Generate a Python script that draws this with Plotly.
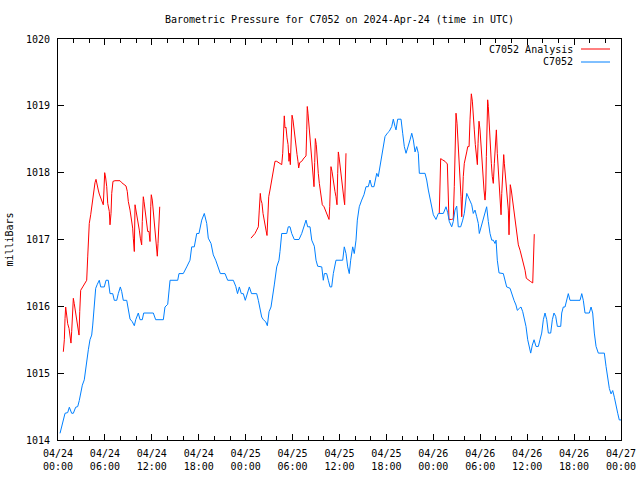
import plotly.graph_objects as go
import pandas as pd

BASE_TIME = "2024-04-24 00:00"

# C7052 station pressure (hours since 04/24 00:00 UTC, millibars)
station_hours = [
    0.26, 0.47, 0.90, 1.24, 1.45, 1.75, 1.96, 2.26, 2.52, 2.72, 2.94, 3.11, 3.36, 3.54, 3.75, 3.88,
    4.09, 4.31, 4.44, 4.64, 4.82, 5.03, 5.28, 5.46, 5.92, 6.14, 6.43, 6.65, 7.00, 7.20, 7.51, 7.71,
    7.97, 8.15, 8.35, 8.79, 8.99, 9.21, 9.50, 9.76, 9.94, 10.27, 10.49, 10.78, 10.96, 12.19, 12.49,
    13.47, 13.68, 14.03, 14.33, 15.31, 15.47, 16.02, 16.46, 16.88, 17.10, 17.43, 17.74, 18.03,
    18.38, 18.71, 19.02, 19.22, 19.57, 19.86, 20.17, 20.50, 20.76, 21.36, 21.70, 22.42, 22.73,
    22.96, 23.19, 23.44, 23.70, 23.95, 24.17, 24.47, 24.75, 25.41, 25.62, 25.83, 26.05, 26.26,
    26.56, 26.77, 26.99, 27.24, 27.46, 27.66, 27.97, 28.26, 28.39, 28.61, 29.25, 29.45, 29.67,
    29.89, 30.22, 30.82, 31.17, 31.46, 31.72, 31.93, 32.23, 32.45, 32.78, 33.00, 33.21, 33.73,
    33.93, 34.06, 34.36, 34.57, 34.79, 35.00, 35.21, 35.55, 36.41, 36.61, 36.83, 37.05, 37.25,
    37.43, 37.69, 37.89, 38.11, 38.28, 38.53, 38.84, 39.13, 39.39, 39.68, 39.90, 40.12, 40.41,
    40.76, 40.96, 41.18, 41.40, 41.60, 41.82, 42.11, 42.37, 42.68, 42.88, 43.10, 43.23, 43.44,
    43.87, 44.08, 44.29, 44.51, 44.80, 45.02, 45.24, 45.44, 45.66, 45.87, 46.08, 46.21, 46.94,
    47.15, 47.36, 47.58, 47.79, 48.00, 48.34, 48.64, 49.28, 49.62, 49.84, 50.04, 50.35, 50.55,
    50.77, 50.99, 51.19, 51.50, 51.76, 51.96, 52.27, 52.47, 52.69, 52.91, 53.11, 53.33, 53.55,
    53.75, 53.88, 54.10, 54.31, 54.61, 54.82, 55.03, 55.25, 55.47, 55.67, 55.89, 56.02, 56.18,
    56.40, 56.95, 57.16, 57.38, 57.81, 58.02, 58.32, 58.57, 58.74, 59.00, 59.21, 59.43, 59.63,
    59.85, 60.07, 60.27, 60.45, 60.66, 60.88, 61.13, 61.43, 61.64, 61.86, 62.07, 62.28, 62.50,
    62.71, 63.01, 63.22, 63.43, 63.65, 63.86, 64.29, 64.42, 64.62, 64.84, 65.06, 65.26, 65.48,
    66.76, 66.98, 67.18, 67.40, 67.95, 68.17, 68.38, 68.59, 68.81, 69.10, 69.87, 70.09, 70.31,
    70.51, 70.73, 70.94, 71.15, 71.36, 71.58, 71.78, 72.00,
]
station_mbar = [
    1014.10, 1014.19, 1014.40, 1014.41, 1014.49, 1014.40, 1014.40, 1014.49, 1014.50, 1014.59, 1014.72,
    1014.82, 1014.90, 1015.09, 1015.22, 1015.35, 1015.50, 1015.57, 1015.72, 1016.00, 1016.27, 1016.33,
    1016.39, 1016.29, 1016.29, 1016.39, 1016.39, 1016.19, 1016.19, 1016.09, 1016.09, 1016.19, 1016.29,
    1016.22, 1016.09, 1016.09, 1015.92, 1015.81, 1015.77, 1015.71, 1015.80, 1015.90, 1015.80, 1015.80,
    1015.90, 1015.90, 1015.80, 1015.80, 1015.99, 1016.03, 1016.39, 1016.39, 1016.49, 1016.49, 1016.59,
    1016.69, 1016.89, 1016.89, 1017.09, 1017.09, 1017.29, 1017.39, 1017.24, 1017.02, 1016.94, 1016.77,
    1016.69, 1016.59, 1016.49, 1016.49, 1016.39, 1016.39, 1016.30, 1016.19, 1016.29, 1016.19, 1016.19,
    1016.09, 1016.19, 1016.29, 1016.19, 1016.19, 1016.09, 1015.99, 1015.84, 1015.80, 1015.77, 1015.71,
    1015.92, 1015.99, 1016.14, 1016.32, 1016.59, 1016.69, 1016.82, 1017.09, 1017.09, 1017.19, 1017.19,
    1017.09, 1017.00, 1017.00, 1017.09, 1017.20, 1017.29, 1017.19, 1017.19, 1016.99, 1016.90, 1016.69,
    1016.60, 1016.59, 1016.39, 1016.49, 1016.49, 1016.39, 1016.29, 1016.29, 1016.49, 1016.69, 1016.69,
    1016.89, 1016.79, 1016.59, 1016.49, 1016.69, 1016.89, 1016.79, 1016.99, 1017.29, 1017.49, 1017.59,
    1017.67, 1017.79, 1017.79, 1017.89, 1017.79, 1017.79, 1017.99, 1017.94, 1018.09, 1018.24, 1018.36,
    1018.54, 1018.59, 1018.62, 1018.69, 1018.80, 1018.69, 1018.64, 1018.80, 1018.80, 1018.59, 1018.39,
    1018.29, 1018.39, 1018.49, 1018.59, 1018.49, 1018.31, 1018.39, 1018.29, 1017.99, 1017.99, 1017.89,
    1017.74, 1017.59, 1017.47, 1017.37, 1017.30, 1017.39, 1017.39, 1017.49, 1017.40, 1017.27, 1017.19,
    1017.27, 1017.44, 1017.50, 1017.19, 1017.19, 1017.29, 1017.39, 1017.69, 1017.64, 1017.59, 1017.52,
    1017.39, 1017.44, 1017.34, 1017.24, 1017.09, 1017.19, 1017.29, 1017.39, 1017.49, 1017.27, 1017.09,
    1016.99, 1016.99, 1016.94, 1016.99, 1016.69, 1016.50, 1016.49, 1016.39, 1016.29, 1016.27, 1016.19,
    1016.09, 1016.02, 1015.94, 1015.97, 1015.99, 1015.92, 1015.82, 1015.70, 1015.50, 1015.40, 1015.30,
    1015.42, 1015.50, 1015.40, 1015.40, 1015.50, 1015.60, 1015.80, 1015.90, 1015.80, 1015.60, 1015.60,
    1015.80, 1015.90, 1015.85, 1015.70, 1015.70, 1015.90, 1015.99, 1015.99, 1016.09, 1016.19, 1016.09,
    1016.09, 1016.19, 1016.09, 1015.90, 1015.90, 1015.99, 1015.90, 1015.60, 1015.40, 1015.30, 1015.30,
    1015.10, 1014.90, 1014.77, 1014.69, 1014.74, 1014.64, 1014.50, 1014.40, 1014.30, 1014.30,
]

# C7052 Analysis (None marks the gaps between the analysis runs)
analysis_hours = [
    0.68, 0.81, 0.90, 0.98, 1.11, 1.24, 1.41, 1.53, 1.66, 1.75, 1.88, 1.96, 2.08, 2.26, 2.39, 2.52,
    2.69, 2.78, 2.90, 3.16, 3.45, 3.67, 3.80, 3.88, 4.00, 4.18, 4.31, 4.44, 4.60, 4.73, 4.86, 5.03,
    5.15, 5.28, 5.46, 5.63, 5.79, 5.88, 5.97, 6.10, 6.23, 6.36, 6.56, 6.65, 6.78, 6.87, 7.03, 7.29,
    7.93, 8.15, 8.44, 8.70, 8.86, 8.99, 9.21, 9.43, 9.55, 9.63, 9.76, 9.85, 9.98, 10.10, 10.27,
    10.40, 10.53, 10.70, 10.78, 10.91, 11.00, 11.13, 11.25, 11.38, 11.47, 11.64, 11.77, 11.86,
    11.93, 12.06, 12.19, 12.32, 12.41, 12.53, 12.62, 12.70, 12.79, 12.88, 13.01,
    18.0,
    24.68, 24.90, 25.19, 25.41, 25.62, 25.74, 25.87, 25.96, 26.09, 26.22, 26.35, 26.47, 26.60,
    26.73, 26.82, 26.95, 27.11, 27.24, 27.37, 27.53, 27.75, 27.97, 28.30, 28.61, 28.74, 28.86,
    28.94, 29.03, 29.16, 29.29, 29.42, 29.54, 29.63, 29.71, 29.84, 29.93, 30.05, 30.18, 30.31,
    30.44, 30.57, 30.69, 30.78, 30.91, 31.17, 31.46, 31.72, 31.81, 31.88, 31.97, 32.10, 32.23,
    32.36, 32.48, 32.61, 32.74, 32.83, 32.91, 33.03, 33.16, 33.29, 33.42, 33.55, 33.67, 33.80,
    34.02, 34.19, 34.36, 34.53, 34.66, 34.75, 34.82, 34.91, 35.04, 35.17, 35.30, 35.42, 35.55,
    35.68, 35.77, 35.85, 35.94, 36.07, 36.19, 36.32, 36.45, 36.58, 36.66, 36.74, 36.83,
    42.0,
    48.76, 48.85, 48.94, 49.20, 49.49, 49.79, 49.92, 50.00, 50.35, 50.55, 50.68, 50.81, 50.90,
    51.03, 51.16, 51.28, 51.41, 51.54, 51.63, 51.71, 51.83, 51.96, 52.09, 52.27, 52.40, 52.57,
    52.69, 52.86, 52.99, 53.11, 53.24, 53.37, 53.50, 53.63, 53.72, 53.84, 53.97, 54.10, 54.23,
    54.35, 54.48, 54.61, 54.70, 54.78, 54.87, 54.95, 55.03, 55.16, 55.29, 55.42, 55.54, 55.67,
    55.80, 55.93, 56.06, 56.18, 56.27, 56.40, 56.53, 56.66, 56.75, 56.87, 57.00, 57.08, 57.21,
    57.34, 57.46, 57.59, 57.68, 57.77, 57.84, 57.97, 58.10, 58.23, 58.36, 58.49, 58.62, 58.74,
    58.87, 59.09, 59.26, 59.39, 59.56, 59.73, 59.89, 60.15, 60.45, 60.71, 60.78, 60.91,
]
analysis_mbar = [
    1015.32, 1015.50, 1015.82, 1015.99, 1015.87, 1015.74, 1015.67, 1015.57, 1015.45, 1015.62, 1015.94,
    1016.12, 1016.04, 1015.89, 1015.80, 1015.72, 1015.57, 1015.92, 1016.24, 1016.29, 1016.34, 1016.39,
    1016.74, 1017.12, 1017.24, 1017.37, 1017.49, 1017.62, 1017.74, 1017.85, 1017.90, 1017.83, 1017.74,
    1017.68, 1017.62, 1017.57, 1017.52, 1017.74, 1018.00, 1017.92, 1017.79, 1017.54, 1017.42, 1017.22,
    1017.39, 1017.69, 1017.87, 1017.88, 1017.88, 1017.85, 1017.83, 1017.80, 1017.72, 1017.57, 1017.44,
    1017.29, 1017.17, 1017.02, 1016.82, 1017.52, 1017.44, 1017.32, 1017.24, 1017.14, 1017.02, 1016.92,
    1017.27, 1017.64, 1017.57, 1017.44, 1017.32, 1017.22, 1017.12, 1017.12, 1016.97, 1017.49, 1017.67,
    1017.59, 1017.44, 1017.29, 1017.14, 1016.99, 1016.84, 1016.75, 1016.94, 1017.32, 1017.49,
    None,
    1017.02, 1017.05, 1017.09, 1017.14, 1017.19, 1017.44, 1017.69, 1017.59, 1017.54, 1017.39, 1017.32,
    1017.22, 1017.14, 1017.06, 1017.34, 1017.64, 1017.74, 1017.82, 1017.92, 1017.99, 1018.17, 1018.17,
    1018.15, 1018.12, 1018.29, 1018.64, 1018.85, 1018.67, 1018.68, 1018.52, 1018.42, 1018.17, 1018.29,
    1018.12, 1018.47, 1018.86, 1018.79, 1018.64, 1018.52, 1018.39, 1018.27, 1018.17, 1018.07, 1018.15,
    1018.17, 1018.22, 1018.25, 1018.64, 1018.99, 1018.89, 1018.69, 1018.54, 1018.36, 1018.19, 1018.04,
    1017.79, 1018.15, 1018.51, 1018.42, 1018.15, 1017.99, 1017.84, 1017.74, 1017.62, 1017.52, 1017.49,
    1017.44, 1017.39, 1017.34, 1017.30, 1017.49, 1017.89, 1018.09, 1018.02, 1017.89, 1017.79, 1017.72,
    1017.64, 1017.52, 1017.99, 1018.31, 1018.24, 1018.09, 1017.94, 1017.82, 1017.69, 1017.59, 1017.52,
    1017.94, 1018.29,
    None,
    1017.39, 1017.79, 1018.21, 1018.19, 1018.17, 1018.13, 1017.69, 1017.30, 1017.30, 1017.31, 1017.79,
    1018.49, 1018.89, 1018.74, 1018.49, 1018.19, 1017.89, 1017.64, 1017.34, 1017.69, 1017.94, 1018.14,
    1018.24, 1018.31, 1018.39, 1018.39, 1018.79, 1019.18, 1019.07, 1018.79, 1018.64, 1018.42, 1018.27,
    1018.12, 1018.44, 1018.77, 1018.64, 1018.39, 1018.14, 1017.94, 1017.74, 1017.59, 1017.74, 1018.24,
    1018.69, 1019.09, 1018.99, 1018.64, 1018.39, 1018.14, 1017.94, 1017.84, 1018.14, 1018.49, 1018.64,
    1018.29, 1018.09, 1017.89, 1017.64, 1017.37, 1017.69, 1017.94, 1018.27, 1018.14, 1017.97, 1017.79,
    1017.59, 1017.44, 1017.07, 1017.54, 1017.82, 1017.74, 1017.62, 1017.47, 1017.34, 1017.24, 1017.12,
    1016.99, 1016.92, 1016.84, 1016.77, 1016.69, 1016.62, 1016.54, 1016.42, 1016.39, 1016.37, 1016.35,
    1016.72, 1017.08,
]

tick_hours = [0, 6, 12, 18, 24, 30, 36, 42, 48, 54, 60, 66, 72]
tick_labels = [
    "04/24<br>00:00", "04/24<br>06:00", "04/24<br>12:00", "04/24<br>18:00",
    "04/25<br>00:00", "04/25<br>06:00", "04/25<br>12:00", "04/25<br>18:00",
    "04/26<br>00:00", "04/26<br>06:00", "04/26<br>12:00", "04/26<br>18:00",
    "04/27<br>00:00",
]
y_ticks = [1014, 1015, 1016, 1017, 1018, 1019, 1020]

series_names = ["C7052 Analysis", "C7052"]
series_colors = ["#ff0000", "#0080ff"]

base = pd.Timestamp(BASE_TIME)


def to_times(hours):
    return [base + pd.Timedelta(hours=h) for h in hours]


FONT = "DejaVu Sans Mono"
W, H = 640, 480
L, R, T, B = 58, 19, 39, 40
PW, PH = W - L - R, H - T - B

fig = go.Figure()
fig.add_trace(go.Scatter(
    x=to_times(analysis_hours), y=analysis_mbar, mode="lines",
    name=series_names[0], line=dict(color=series_colors[0], width=1),
    connectgaps=False, showlegend=False,
))
fig.add_trace(go.Scatter(
    x=to_times(station_hours), y=station_mbar, mode="lines",
    name=series_names[1], line=dict(color=series_colors[1], width=1),
    showlegend=False,
))

# gnuplot-style key: right-aligned text with the line sample on its right
annotations = []
shapes = []
for i, (name, color) in enumerate(zip(series_names, series_colors)):
    ypx = 49 + 13 * i
    yp = 1 - (ypx - T) / PH
    annotations.append(dict(
        text=name, xref="paper", yref="paper",
        x=(575 - L) / PW, y=yp, xanchor="right", yanchor="middle",
        showarrow=False, font=dict(family=FONT, size=10, color="black"),
    ))
    shapes.append(dict(
        type="line", xref="paper", yref="paper",
        x0=(581 - L) / PW, x1=(610 - L) / PW, y0=yp, y1=yp,
        line=dict(color=color, width=1),
    ))

fig.update_layout(
    width=W, height=H,
    margin=dict(l=L, r=R, t=T, b=B, autoexpand=False),
    paper_bgcolor="white", plot_bgcolor="white",
    font=dict(family=FONT, size=10, color="black"),
    title=dict(
        text="Barometric Pressure for C7052 on 2024-Apr-24 (time in UTC)",
        x=(L + W - R) / 2 / W, xanchor="center",
        y=1 - 19 / H, yanchor="middle", yref="container",
        font=dict(family=FONT, size=10, color="black"),
    ),
    showlegend=False,
    annotations=annotations,
    shapes=shapes,
)

fig.update_xaxes(
    type="date", automargin=False,
    range=[base, base + pd.Timedelta(hours=72)],
    tickvals=to_times(tick_hours), ticktext=tick_labels,
    ticks="inside", ticklen=6, tickcolor="black",
    showline=True, linecolor="black", linewidth=1, mirror="ticks",
    showgrid=False, zeroline=False,
    minor=dict(ticks="inside", ticklen=4, tickcolor="black",
               dtick=2 * 3600 * 1000, tick0=base, showgrid=False),
    tickfont=dict(family=FONT, size=10, color="black"),
    ticklabelstandoff=4,
)
fig.update_yaxes(
    automargin=False,
    range=[1014, 1020],
    tickvals=y_ticks, ticktext=[str(v) for v in y_ticks],
    ticks="inside", ticklen=6, tickcolor="black",
    showline=True, linecolor="black", linewidth=1, mirror="ticks",
    showgrid=False, zeroline=False,
    title=dict(text="milliBars", standoff=10,
               font=dict(family=FONT, size=10, color="black")),
    tickfont=dict(family=FONT, size=10, color="black"),
    ticklabelstandoff=5,
)

# remove the browser's default page margin so the figure sits at (0, 0)
fig.write_html(
    "out.html",
    config={"displayModeBar": False, "staticPlot": True},
    post_script="document.body.style.margin='0px';document.body.style.padding='0px';",
)
